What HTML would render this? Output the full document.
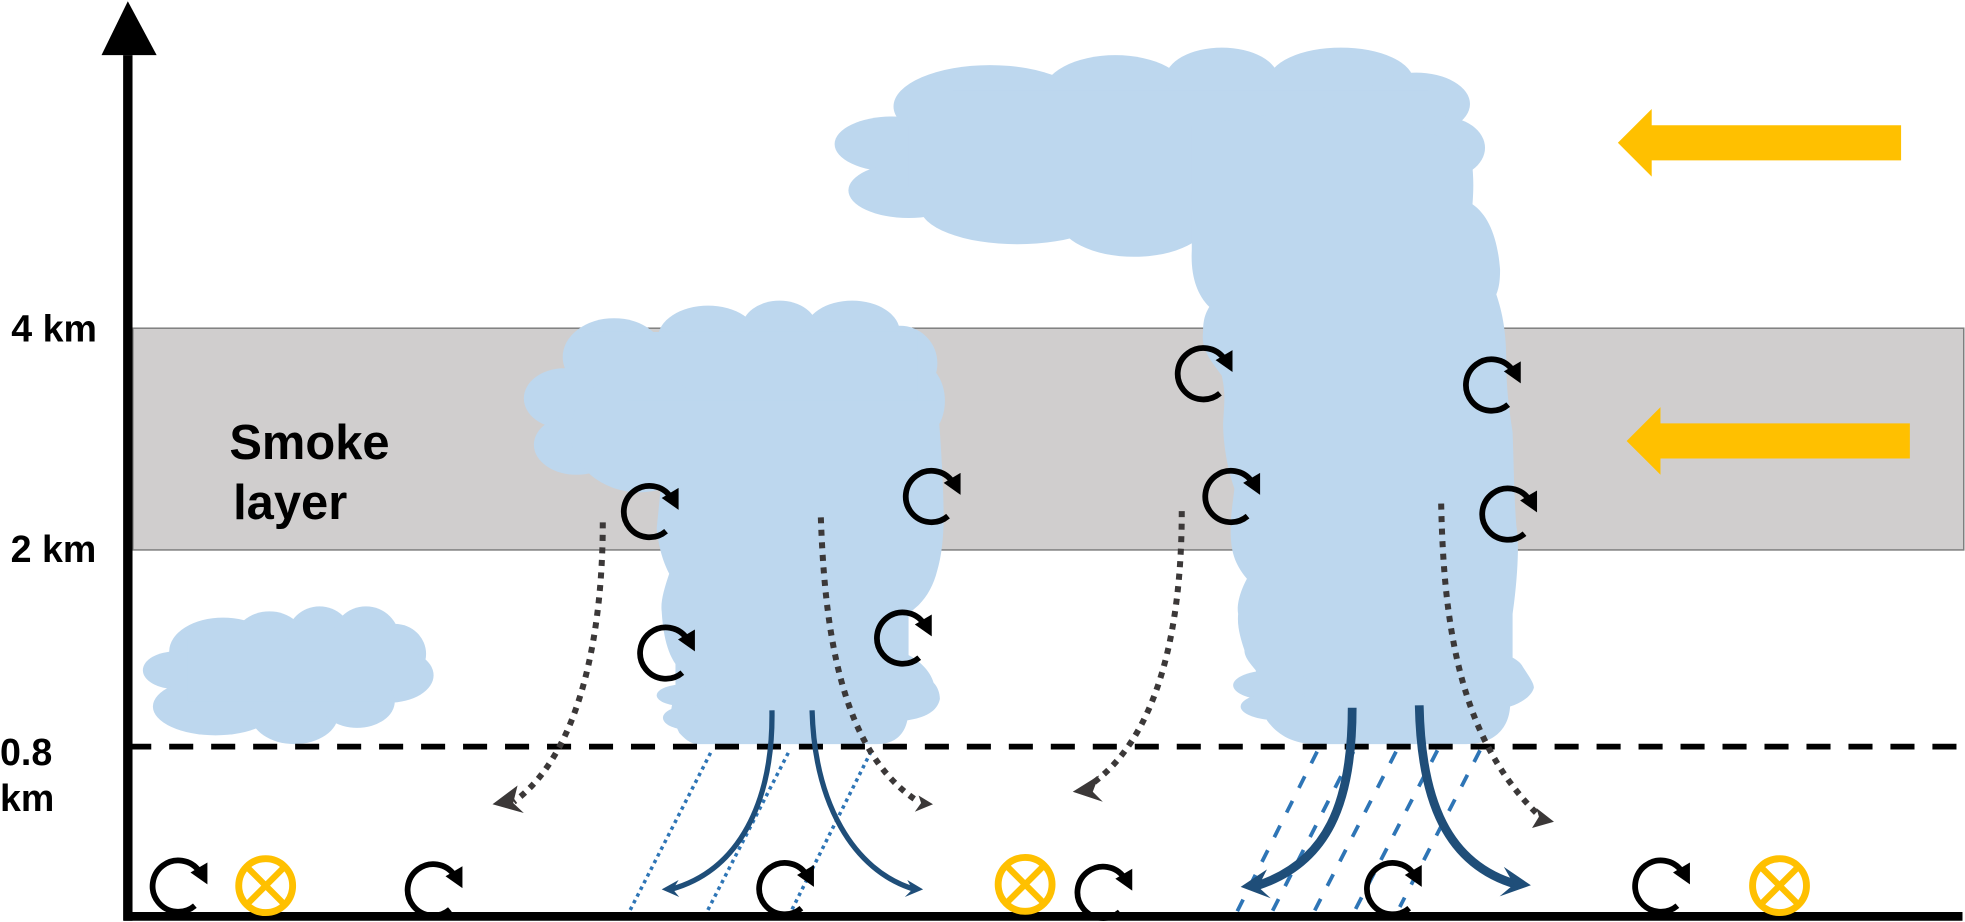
<!DOCTYPE html>
<html><head><meta charset="utf-8"><style>
html,body{margin:0;padding:0;background:#fff;width:1965px;height:922px;overflow:hidden}
svg{display:block}
text{font-family:"Liberation Sans",sans-serif;font-weight:bold;fill:#000}
</style></head><body>
<svg xmlns="http://www.w3.org/2000/svg" width="1965" height="922" viewBox="0 0 1568 736" preserveAspectRatio="none">
<defs>
<g id="sw"><path d="M12.5 16.5A20.5 20.5 0 1 1 16 -11" fill="none" stroke="#000" stroke-width="4.6"/><path d="M9 -10L22.5 -18V-0.5Z" fill="#000"/></g>
<g id="ox"><circle r="21.5" fill="none" stroke="#FFC000" stroke-width="5.5"/><path d="M-15 -15L15 15M15 -15L-15 15" stroke="#FFC000" stroke-width="5" fill="none"/></g>
</defs>
<rect x="106" y="262" width="1461" height="177" fill="#D0CECE" stroke="#7F7F7F" stroke-width="1.2"/>
<!-- small cloud -->
<g fill="#BDD7EE">
<ellipse cx="178" cy="520" rx="43" ry="27"/><ellipse cx="215" cy="513" rx="29" ry="25"/><ellipse cx="255" cy="509" rx="26" ry="25"/><ellipse cx="292" cy="511" rx="27" ry="27"/><ellipse cx="315" cy="522" rx="25" ry="24"/><ellipse cx="310" cy="539" rx="36" ry="22"/><ellipse cx="140" cy="535" rx="26" ry="15"/><ellipse cx="172" cy="564" rx="50" ry="23"/><ellipse cx="235" cy="570" rx="35" ry="24"/><ellipse cx="285" cy="560" rx="30" ry="21"/><rect x="150" y="510" width="160" height="50"/>
</g>
<!-- small tower -->
<g fill="#BDD7EE">
<ellipse cx="490" cy="285" rx="41" ry="31"/><ellipse cx="565" cy="270" rx="40" ry="26"/><ellipse cx="622" cy="262" rx="30" ry="22"/><ellipse cx="680" cy="265" rx="38" ry="25"/><ellipse cx="718" cy="290" rx="30" ry="30"/><ellipse cx="733" cy="320" rx="21" ry="30"/><ellipse cx="450" cy="318" rx="32" ry="24"/><ellipse cx="460" cy="355" rx="34" ry="24"/>
<rect x="470" y="265" width="262" height="70"/>
<ellipse cx="510" cy="345" rx="55" ry="48"/>
<path d="M500 320H748L750 345C752 375 753 395 753 413C753 430 751 445 748 455C745 467 740 476 733 483L725 490V523C733 527 742 535 745 545C748 548 750 553 750 558C748 568 738 573 724 575C722 585 715 594 700 594H555C548 592 545 588 542 585L535 570L539 547V530C532 520 529 505 528 488C527 480 530 470 534 458C530 450 526 440 524 422L527 392Z"/>
<ellipse cx="548" cy="555" rx="24" ry="9"/><ellipse cx="552" cy="573" rx="23" ry="10"/>
</g>
<!-- large tower -->
<g fill="#BDD7EE">
<ellipse cx="790" cy="85" rx="77" ry="33"/><ellipse cx="890" cy="75" rx="58" ry="31"/><ellipse cx="975" cy="63" rx="45" ry="25"/><ellipse cx="1070" cy="65" rx="58" ry="27"/><ellipse cx="1130" cy="83" rx="43" ry="25"/><ellipse cx="1150" cy="118" rx="35" ry="25"/><ellipse cx="712" cy="115" rx="46" ry="22"/><ellipse cx="725" cy="152" rx="48" ry="22"/><ellipse cx="812" cy="165" rx="78" ry="30"/><ellipse cx="905" cy="175" rx="60" ry="30"/>
<rect x="760" y="72" width="380" height="100"/>
<rect x="725" y="100" width="60" height="50"/>
<path d="M1100 80L1174 125C1176 140 1176 150 1175 163C1188 172 1195 190 1197 215C1197 225 1196 230 1194 235C1199 250 1202 265 1202 290C1202 310 1204 325 1207 345C1208 370 1208 395 1210 420C1213 435 1210 470 1207 490V525C1211 527 1214 530 1215 532C1220 540 1224 545 1224 549C1222 556 1214 561 1205 564C1204 580 1194 594 1170 594H1050C1030 594 1018 585 1011 575L1002 535C998 530 993 525 993 519C990 510 987 500 988 490C987 485 988 475 995 462C985 450 982 440 982 423C982 410 984 400 985 390C978 370 976 350 976 338C977 320 978 315 975 300C968 290 958 280 960 265C960 255 962 250 965 245C955 235 950 220 951 200V100Z"/>
<ellipse cx="1015" cy="547" rx="31" ry="12"/><ellipse cx="1020" cy="564" rx="30" ry="11"/>
</g>
<!-- band labels -->
<text x="9" y="272.5" font-size="30">4 km</text>
<text x="8.5" y="448.5" font-size="30">2 km</text>
<text x="183" y="366.5" font-size="39">Smoke</text>
<text x="186" y="414.5" font-size="39">layer</text>
<text x="0" y="610.5" font-size="30">0.8</text>
<text x="0" y="647.5" font-size="30">km</text>
<!-- dashed boundary -->
<line x1="101.5" y1="596" x2="1566" y2="596" stroke="#000" stroke-width="4.5" stroke-dasharray="19.2 14.3"/>
<!-- blue dotted -->
<g stroke="#2E75B6" stroke-width="2.8" stroke-dasharray="2.8 3.2" fill="none">
<line x1="567" y1="601" x2="500" y2="732"/><line x1="629" y1="601" x2="562" y2="732"/><line x1="695" y1="600" x2="629" y2="732"/>
</g>
<!-- blue dashed -->
<g stroke="#2E75B6" stroke-width="3" stroke-dasharray="10.4 11.6" fill="none">
<line x1="1051" y1="600" x2="987" y2="728"/><line x1="1080" y1="600" x2="1015" y2="728"/><line x1="1114" y1="600" x2="1048.5" y2="728"/><line x1="1147" y1="599" x2="1080.5" y2="728"/><line x1="1181" y1="599" x2="1117" y2="724"/>
</g>
<!-- grey dotted -->
<g stroke="#3B3838" stroke-width="4.8" stroke-dasharray="4.8 5.2" fill="none">
<path d="M481 417C481 500 465 600 410 640"/>
<path d="M655 413C658 500 670 600 733 640"/>
<path d="M943 408C943 500 925 590 868 628"/>
<path d="M1150 402C1152 500 1165 590 1228 651"/>
</g>
<g fill="#3B3838">
<path d="M393 642L413 627L409.5 641L418 649Z"/>
<path d="M744.5 642L733 635L735 641L730 648Z"/>
<path d="M856 632L877 619L872 632L880 640Z"/>
<path d="M1240 656L1226 645L1228 652L1222.5 661Z"/>
</g>
<!-- blue solid -->
<g stroke="#1F4E79" fill="none">
<path d="M616 567C617 640 590 695 535 710" stroke-width="4.2"/>
<path d="M648 567C650 640 680 695 730 710" stroke-width="4.2"/>
<path d="M1079 565C1079 640 1060 690 1000 708" stroke-width="7"/>
<path d="M1132.5 563C1134 640 1155 690 1210 706" stroke-width="7"/>
</g>
<g fill="#1F4E79">
<path d="M528 710L541.5 702.5L537 710L542 716Z"/>
<path d="M736.6 710L724 702.5L728 710L722 716Z"/>
<path d="M990 708L1011 694L1004 708L1014 717Z"/>
<path d="M1221.6 706.7L1200 692L1208 706L1196.6 715.5Z"/>
</g>
<!-- axes -->
<path d="M102 1L81 44H125Z" fill="#000"/>
<line x1="102" y1="44" x2="102" y2="735" stroke="#000" stroke-width="7.5"/>
<line x1="99" y1="731.5" x2="1566" y2="731.5" stroke="#000" stroke-width="7"/>
<!-- orange arrows -->
<path d="M1291 114L1318 87V100H1517V128H1318V141Z" fill="#FFC000"/>
<path d="M1298 352L1325 325V338H1524V366H1325V379Z" fill="#FFC000"/>
<use href="#ox" transform="translate(212 707)"/>
<use href="#ox" transform="translate(818 706)"/>
<use href="#ox" transform="translate(1420 707)"/>
<!-- swirls -->
<use href="#sw" transform="translate(143 706.5)"/>
<use href="#sw" transform="translate(346.5 709.5)"/>
<use href="#sw" transform="translate(627 708.5)"/>
<use href="#sw" transform="translate(881 711.5)"/>
<use href="#sw" transform="translate(1112 708.5)"/>
<use href="#sw" transform="translate(1326 706.5)"/>
<use href="#sw" transform="translate(519 407.5)"/>
<use href="#sw" transform="translate(744 395.5)"/>
<use href="#sw" transform="translate(532 520.5)"/>
<use href="#sw" transform="translate(721 508.5)"/>
<use href="#sw" transform="translate(961 297.5)"/>
<use href="#sw" transform="translate(1191 306.5)"/>
<use href="#sw" transform="translate(983 395.5)"/>
<use href="#sw" transform="translate(1204 409.5)"/>
</svg>
</body></html>
